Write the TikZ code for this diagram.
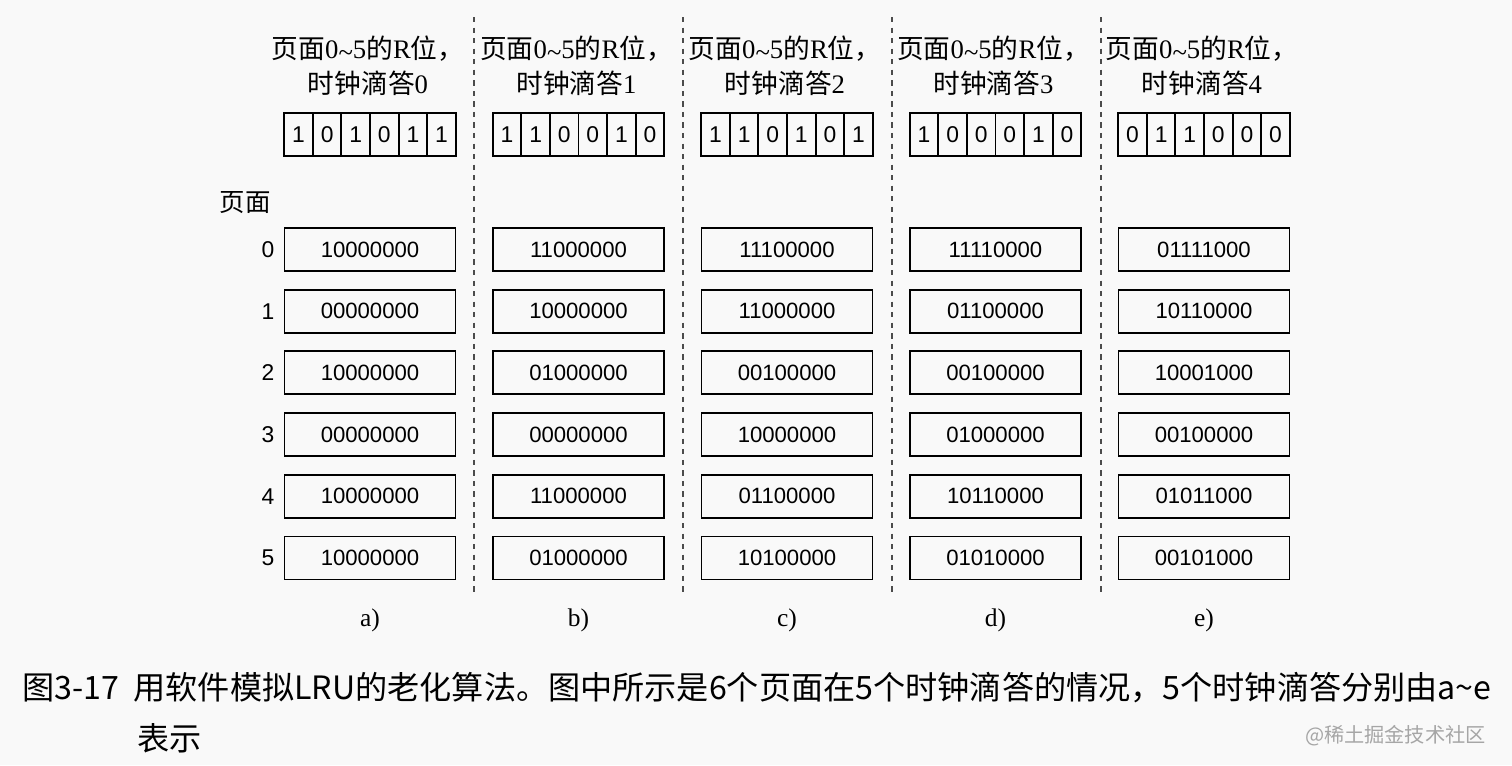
\documentclass[tikz,border=0pt]{standalone}
\usepackage{fontspec}
\setmainfont{Liberation Serif}
\setsansfont{Liberation Sans}
\newfontfamily\cjk{Noto Sans CJK SC}
\newcommand{\tld}{\raisebox{-0.3ex}{\textasciitilde}}
\begin{document}
\begin{tikzpicture}[x=0.02cm, y=-0.02cm,
  bitcell/.style={draw, line width=1.1pt, minimum width=0.572cm, minimum height=0.86cm, inner sep=0pt, font=\sffamily\fontsize{13}{14}\selectfont},
  ctrbox/.style={draw, line width=1.1pt, minimum width=3.42cm, minimum height=0.86cm, inner sep=0pt, font=\sffamily\fontsize{12.6}{14}\selectfont},
  hdrtext/.style={align=center, font=\fontsize{15.2}{19.9}\selectfont},
  sublabel/.style={font=\fontsize{14.5}{16}\selectfont},
  captext/.style={anchor=west, inner sep=0pt, font=\cjk\fontsize{18.3}{20}\selectfont}]
\useasboundingbox (0,0) rectangle (1512,765);
\fill[gray!5] (0,0) rectangle (1512,765);

% column separators
\foreach \j in {0,...,3}
  \draw[dashed, line width=0.6pt, gray!60!black] (474+209*\j,17) -- (474+209*\j,593);

% page numbers
\node[font=\cjk\fontsize{14.5}{16}\selectfont] (pglabel) at (245,203) {页面};
\foreach \k in {0,...,5}
  \node[font=\sffamily\fontsize{13}{14}\selectfont] (pg\k) at (268,249.5+61.7*\k) {\k};

% one column per clock tick
\foreach \col/\lbl/\bits/\ctrs in {
  0/a/{1,0,1,0,1,1}/{10000000,00000000,10000000,00000000,10000000,10000000},
  1/b/{1,1,0,0,1,0}/{11000000,10000000,01000000,00000000,11000000,01000000},
  2/c/{1,1,0,1,0,1}/{11100000,11000000,00100000,10000000,01100000,10100000},
  3/d/{1,0,0,0,1,0}/{11110000,01100000,00100000,01000000,10110000,01010000},
  4/e/{0,1,1,0,0,0}/{01111000,10110000,10001000,00100000,01011000,00101000}}{
  \pgfmathsetmacro{\cx}{370+208.5*\col}
  \node[hdrtext] (hdr\col) at (\cx-2,65.5)
    {{\cjk 页面}0\tld5{\cjk 的}R{\cjk 位，}\\{\cjk 时钟滴答}\col};
  \foreach \b [count=\i from 0] in \bits
    \node[bitcell] (r\col-\i) at (\cx-71.5+28.6*\i,134.5) {\b};
  \foreach \c [count=\k from 0] in \ctrs
    \node[ctrbox] (c\col-\k) at (\cx,249.5+61.7*\k) {\c};
  \node[sublabel] (lbl\col) at (\cx,620) {\lbl)};
}

% caption
\node[captext] (cap1) at (22,688) {图3-17\hspace{0.45em}用软件模拟LRU的老化算法。图中所示是6个页面在5个时钟滴答的情况，5个时钟滴答分别由a\textasciitilde e};
\node[captext] (cap2) at (137,738) {表示};
\node[anchor=east, text=gray!70, font=\cjk\fontsize{11.5}{13}\selectfont] (wmark) at (1492,736) {@稀土掘金技术社区};
\end{tikzpicture}
\end{document}
